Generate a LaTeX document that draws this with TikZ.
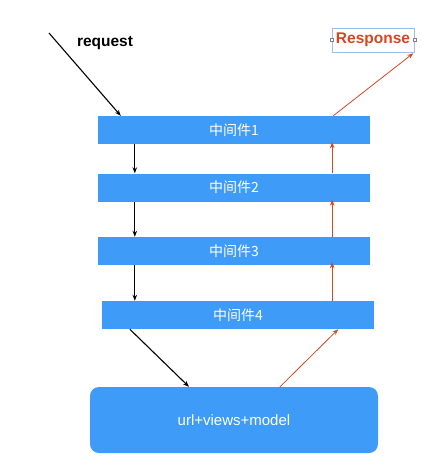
\documentclass[tikz,border=0pt]{standalone}
\usepackage{fontspec}
\setmainfont{Liberation Sans}
\newfontfamily\cjk{Noto Sans CJK SC}
\usetikzlibrary{arrows.meta}
\definecolor{boxblue}{RGB}{62,155,247}
\definecolor{respred}{RGB}{214,70,34}
\definecolor{selblue}{RGB}{160,190,230}

\begin{document}
\begin{tikzpicture}[x=1pt, y=-1pt,
    mw/.style={fill=boxblue, text=white, minimum width=272pt, minimum height=28pt, inner sep=0pt, font=\cjk\fontsize{14}{16}\selectfont},
    down/.style={-{Stealth[length=6pt,width=4.5pt]}, line width=1.1pt, black},
    up/.style={-{Stealth[length=6pt,width=4.5pt]}, line width=0.8pt, respred},
    lbl/.style={font=\bfseries\fontsize{15.5}{18}\selectfont}]
    \useasboundingbox (0,0) rectangle (438,467);
    % middleware layers
    \node[mw] (mw1) at (234,130) {中间件1};
    \node[mw] (mw2) at (234,187.5) {中间件2};
    \node[mw] (mw3) at (234,251) {中间件3};
    \node[mw] (mw4) at (238,315) {中间件4};
    \node[fill=boxblue, text=white, rounded corners=9pt, minimum width=288pt, minimum height=66pt,
          font=\fontsize{15}{18}\selectfont] (app) at (234,420) {url+views+model};
    % labels
    \node[lbl] (req) at (105,43) {request};
    \coordinate (in) at (49,33);
    \node[lbl, text=respred, draw=selblue, line width=0.5pt, minimum width=82pt, minimum height=24pt, inner sep=0pt] (resp) at (373,40) {Response};
    \draw[gray, fill=white, line width=0.4pt] ([xshift=-1.5pt,yshift=-1.5pt]resp.west) rectangle ([xshift=1.5pt,yshift=1.5pt]resp.west);
    \draw[gray, fill=white, line width=0.4pt] ([xshift=-1.5pt,yshift=-1.5pt]resp.east) rectangle ([xshift=1.5pt,yshift=1.5pt]resp.east);
    % request going down
    \draw[down] (in) -- ([xshift=23pt]mw1.north west);
    \draw[down] ([xshift=37pt]mw1.south west) -- ([xshift=37pt]mw2.north west);
    \draw[down] ([xshift=37pt]mw2.south west) -- ([xshift=37pt]mw3.north west);
    \draw[down] ([xshift=37pt]mw3.south west) -- ([xshift=37pt]mw3.south west |- mw4.north);
    \draw[down] ([xshift=28pt]mw4.south west) -- ([xshift=-45pt]app.north);
    % response going up
    \draw[up] ([xshift=46pt]app.north) -- ([xshift=-36pt]mw4.south east);
    \draw[up] ([xshift=-42pt]mw4.north east) -- ([xshift=-38pt,yshift=3pt]mw3.south east);
    \draw[up] ([xshift=-38pt]mw3.north east) -- ([xshift=-38pt,yshift=2pt]mw2.south east);
    \draw[up] ([xshift=-38pt]mw2.north east) -- ([xshift=-38pt,yshift=2pt]mw1.south east);
    \draw[up] ([xshift=-37pt]mw1.north east) -- ([xshift=-1pt,yshift=-1pt]resp.south east);
\end{tikzpicture}
\end{document}
